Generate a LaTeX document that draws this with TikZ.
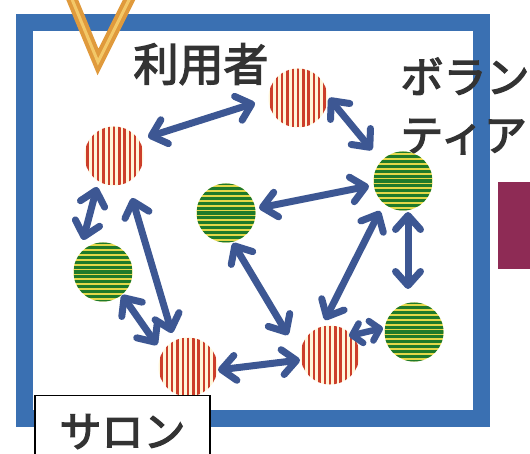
\documentclass[tikz,border=0pt]{standalone}
\usepackage{fontspec}
\newfontfamily\jp{Noto Sans CJK JP}[FakeBold=3]
\usetikzlibrary{arrows.meta,calc}
\definecolor{framec}{HTML}{3A70B2}
\definecolor{arrc}{HTML}{3D5793}
\definecolor{vorange}{HTML}{E09A3C}
\definecolor{vlight}{HTML}{F3C868}
\definecolor{redst}{HTML}{CC3E2A}
\definecolor{redbg}{HTML}{FFF6DA}
\definecolor{grnst}{HTML}{1F7A2A}
\definecolor{grnbg}{HTML}{E4D848}
\definecolor{magc}{HTML}{8E2B55}
\definecolor{txtc}{HTML}{333333}
\tikzset{
  ball/.style={circle, inner sep=0pt, minimum size=59pt},
  redball/.style={ball, fill=redbg, path picture={
      \foreach \k in {-6,...,6}{
        \draw[line width=2.4pt, redst] ([xshift={\k*5.3pt}]path picture bounding box.north) -- ([xshift={\k*5.3pt}]path picture bounding box.south);}}},
  greenball/.style={ball, fill=grnbg, path picture={
      \foreach \k in {-6,...,6}{
        \draw[line width=3.1pt, grnst] ([yshift={\k*4.9pt}]path picture bounding box.west) -- ([yshift={\k*4.9pt}]path picture bounding box.east);}}},
  arr/.style={line width=7pt, arrc, line cap=round, {Straight Barb[length=14pt,width=25pt,round]}-{Straight Barb[length=14pt,width=25pt,round]}},
  shortarr/.style={line width=6.5pt, arrc, line cap=round, {Straight Barb[length=9pt,width=20pt,round]}-{Straight Barb[length=9pt,width=20pt,round]}},
  jptext/.style={font=\jp, text=txtc, inner sep=0pt},
}
\begin{document}
\begin{tikzpicture}[x=1pt, y=-1pt]
\useasboundingbox[fill=white] (0,0) rectangle (530,454);
% frame
\draw[line width=17pt, framec] (24,22.5) rectangle (481.5,418.5);
% V
\draw[line width=11pt, vorange, line join=miter] (69,-8) -- (98,62) -- (133,-8);
\draw[line width=3pt, vlight, line join=miter] (69,-8) -- (98,62) -- (133,-8);
% magenta block
\fill[magc] (498,182) rectangle (535,269);
% texts
\node[jptext, font=\jp\fontsize{45}{50}\selectfont] (user) at (201,64) {利用者};
\node[jptext, font=\jp\fontsize{43}{58}\selectfont, align=left] (vol) at (465,106) {ボラン\\ティア};
% balls
\node[redball] (rt) at (298,98) {};
\node[redball] (rl) at (114,156) {};
\node[greenball] (gtr) at (403,181) {};
\node[greenball] (gm) at (226,213) {};
\node[greenball] (gl) at (103,272) {};
\node[redball] (rbl) at (188,367) {};
\node[redball] (rbr) at (330,355) {};
\node[greenball] (gbr) at (414,332) {};
% arrows
\draw[arr] ($(rl)+(34,-19)$) -- ($(rt)+(-43,5)$);
\draw[arr] ($(rt)+(31,0)$) -- ($(gtr)+(-31,-31)$);
\draw[arr] ($(gtr)+(-34,5)$) -- ($(gm)+(33,-5)$);
\draw[arr] ($(gtr)+(5,31)$) -- ($(gbr)+(-6,-43)$);
\draw[arr] ($(gtr)+(-23,30)$) -- ($(rbr)+(-5,-35)$);
\draw[arr] ($(gm)+(7,30)$) -- ($(rbr)+(-42,-20)$);
\draw[arr] ($(rbl)+(30,3)$) -- ($(rbr)+(-30,5)$);
\draw[shortarr] ($(rbr)+(19,-19)$) -- ($(gbr)+(-31,-4)$);
\draw[arr] ($(rl)+(-17,31)$) -- ($(gl)+(-20,-32)$);
\draw[arr] ($(rl)+(18,42)$) -- ($(rbl)+(-16,-34)$);
\draw[arr] ($(gl)+(19,23)$) -- ($(rbl)+(-31,-22)$);
% salon box
\node[draw=black, line width=1.2pt, fill=white, minimum width=175pt, minimum height=72pt, anchor=north, font=\jp\fontsize{42}{46}\selectfont, text=txtc, inner sep=0pt] (salon) at (122.5,395) {サロン};
\end{tikzpicture}
\end{document}
